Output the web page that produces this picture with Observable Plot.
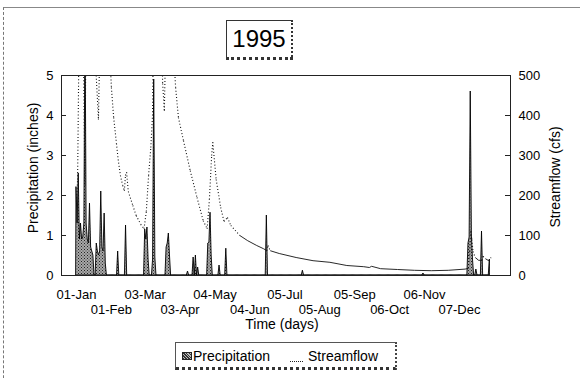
<!DOCTYPE html>
<html><head><meta charset="utf-8">
<script src="https://cdn.jsdelivr.net/npm/d3@7"></script>
<script src="https://cdn.jsdelivr.net/npm/@observablehq/plot@0.6"></script>
<style>
body{margin:0;background:#fff;font-family:"Liberation Sans",Arial,sans-serif;color:#000;}
#wrap{position:relative;width:580px;height:378px;overflow:hidden;}
#wrap svg{position:absolute;left:0;top:0;}
.abs{position:absolute;white-space:nowrap;}
.rot{transform:translate(-50%,-50%) rotate(-90deg);font-size:14px;}
#outer{position:absolute;left:3px;top:7px;width:620px;height:420px;border-left:1px dashed #777;border-top:1px solid #888;}
#title{left:226px;top:20px;width:64px;height:36px;border:1px solid #333;border-bottom:3px dotted #333;border-right:2px dotted #333;font-size:24px;line-height:36px;text-align:center;background:#fff;}
#legend{left:175px;top:342px;width:219px;height:24px;border:1px solid #555;border-bottom:3px dotted #333;border-right:2px dotted #444;background:#fff;}
</style></head><body>
<div id="wrap">
<div id="outer"></div>
</div>
<script>
// ---- data (day offsets from 01-Jan-1995) ----
const precipDays   = [0,1,2,3,4,5,6,7,8,9,10,11,12,13,14,15,18,19,20,21,22,23,24,25,26,37,44,61,62,63,64,68,69,70,80,81,82,83,99,104,106,108,117,118,119,120,127,133,169,201,308,348,349,350,351,352,355,360,367];
const precipInches = [2.2,1.3,2.55,0.9,1.3,0.9,0.95,1.3,6.5,1.3,0.9,0.8,1.8,0.7,0.6,0.5,0.8,0.6,0.5,0.6,2.1,0.7,0.6,1.55,0.3,0.6,1.25,1.15,0.9,1.2,0.4,0.4,4.9,0.45,0.7,0.8,1.05,0.5,0.1,0.45,0.5,0.2,0.8,0.82,1.57,0.5,0.25,0.67,1.5,0.12,0.05,0.8,0.95,4.6,1.0,0.4,0.15,1.1,0.4];

const flowDays = [0,1,3,6,7.5,9,15,17.5,19.5,21.5,28,31,33,35.5,37,39,41,42.5,43.5,44.5,46,50,53,57,60,62,64,66,67.5,69,75,76.5,78,80,85,87,88,90.5,95,101,107,112.5,116,118,120,121,124,128,131,134,137,145,152,160,166,169,170,172,180,195,210,225,240,255,260,262,270,285,300,315,330,345,348,349,350,351,352,354,357,360,361,363,366,368];
const flowCfs  = [185,240,800,600,225,900,800,500,390,700,650,470,395,330,290,250,225,212,250,258,210,175,150,128,117,160,250,320,400,800,700,480,412,700,650,520,470,395,337,262,195,137,117,190,300,333,240,170,135,145,125,100,87,75,67,62,75,62,55,45,37,33,25,22,20,23,17,15,13,12,13,16,18,60,110,90,60,45,38,38,48,42,37,45];

const tickDays   = [0,31,61,92,123,154,185,216,247,278,309,340];
const tickLabels = ["01-Jan","01-Feb","03-Mar","03-Apr","04-May","04-Jun","05-Jul","05-Aug","05-Sep","06-Oct","06-Nov","07-Dec"];
const precipTicks = [0,1,2,3,4,5];
const flowTicks   = [0,100,200,300,400,500];

// ---- build tables ----
const lastDay = d3.max(precipDays);
const pMap = new Map(precipDays.map((d,i)=>[d,precipInches[i]]));
const precip = d3.range(0, lastDay+1).map(d=>({day:d, inches: pMap.get(d) ?? 0}));
const flowScale = 100; // 500 cfs <-> 5 in
const flow = flowDays.map((d,i)=>({day:d, v:flowCfs[i]/flowScale}));
const segs = d3.pairs(flow).map(([a,b])=>({x1:a.day,y1:a.v,x2:b.day,y2:b.v}));
// steep segments are drawn dotted (as in the Excel original), flat ones solid
const pxPerDay = 449/398.6, pxPerUnit = 40;
const steep = s => Math.abs(s.y2-s.y1)*pxPerUnit > Math.abs(s.x2-s.x1)*pxPerDay*0.9;
const dotSegs = segs.filter(steep), solidSegs = segs.filter(s=>!steep(s));
const labelOf = new Map(tickDays.map((d,i)=>[d,tickLabels[i]]));
const plotW = 580-61-70;

const svg = Plot.plot({
  width:580, height:378,
  marginLeft:61, marginRight:70, marginTop:75, marginBottom:103,
  style:{fontFamily:'"Liberation Sans", Arial, sans-serif', fontSize:"13px", color:"#000", background:"transparent", overflow:"visible"},
  x:{domain:[-13.3,385.3]},
  y:{domain:[0,5]},
  marks:[
    Plot.areaY(precip,{x:"day", y:"inches", fill:"url(#stipple)", stroke:"#000", strokeWidth:0.9, clip:true}),
    Plot.link(solidSegs,{x1:"x1",y1:"y1",x2:"x2",y2:"y2", stroke:"#111", strokeWidth:0.9, clip:true}),
    Plot.link(dotSegs,{x1:"x1",y1:"y1",x2:"x2",y2:"y2", stroke:"#111", strokeWidth:1.1, strokeDasharray:"1,2.2", clip:true}),
    Plot.frame({stroke:"#222"}),
    Plot.tickY(precipTicks.slice(1,-1),{y:d=>d, insetRight:plotW-5, stroke:"#222"}),
    Plot.tickY(flowTicks.slice(1,-1),{y:d=>d/flowScale, insetLeft:plotW-5, stroke:"#222"}),
    Plot.axisX({ticks:tickDays.filter((d,i)=>i%2===0), tickFormat:d=>labelOf.get(d), tickSize:0, tickPadding:14, label:null, fontSize:13}),
    Plot.axisX({ticks:tickDays.filter((d,i)=>i%2===1), tickFormat:d=>labelOf.get(d), tickSize:0, tickPadding:29, label:null, fontSize:13}),
    Plot.axisY({ticks:precipTicks, tickFormat:d=>String(d), tickSize:0, tickPadding:8, label:null, fontSize:13}),
    Plot.axisY({anchor:"right", ticks:flowTicks.map(v=>v/flowScale), tickFormat:d=>String(Math.round(d*flowScale)), tickSize:0, tickPadding:8, label:null, fontSize:13})
  ]
});
const ns = "http://www.w3.org/2000/svg";
const defs = document.createElementNS(ns,"defs");
defs.innerHTML = '<pattern id="stipple" width="3" height="3" patternUnits="userSpaceOnUse"><rect width="3" height="3" fill="#a8a8a8"/><rect width="1" height="1" fill="#222"/><rect x="1.5" y="1.5" width="1" height="1" fill="#333"/></pattern>';
svg.prepend(defs);
const wrap = document.getElementById("wrap");
wrap.appendChild(svg);

function addDiv(html, cls, style, id){
  const el = document.createElement("div");
  el.className = cls; if(id) el.id = id;
  el.innerHTML = html; Object.assign(el.style, style);
  wrap.appendChild(el); return el;
}
addDiv("1995","abs",{},"title");
addDiv("Precipitation (inches)","abs rot",{left:"33px",top:"168px"});
addDiv("Streamflow (cfs)","abs rot",{left:"555px",top:"177px"});
addDiv("Time (days)","abs",{left:"282px",top:"324px",transform:"translate(-50%,-50%)",fontSize:"14px"});
addDiv("","abs",{},"legend");
addDiv("","abs",{left:"182px",top:"352px",width:"8px",height:"6px",border:"1px solid #222",background:"repeating-linear-gradient(45deg,#333 0 1px,#bbb 1px 2px)"});
addDiv("Precipitation","abs",{left:"193px",top:"348px",fontSize:"14px"});
addDiv("","abs",{left:"290px",top:"361px",width:"13px",height:"0",borderTop:"1.5px dotted #222"});
addDiv("Streamflow","abs",{left:"308px",top:"348px",fontSize:"14px"});
</script>
</body></html>
